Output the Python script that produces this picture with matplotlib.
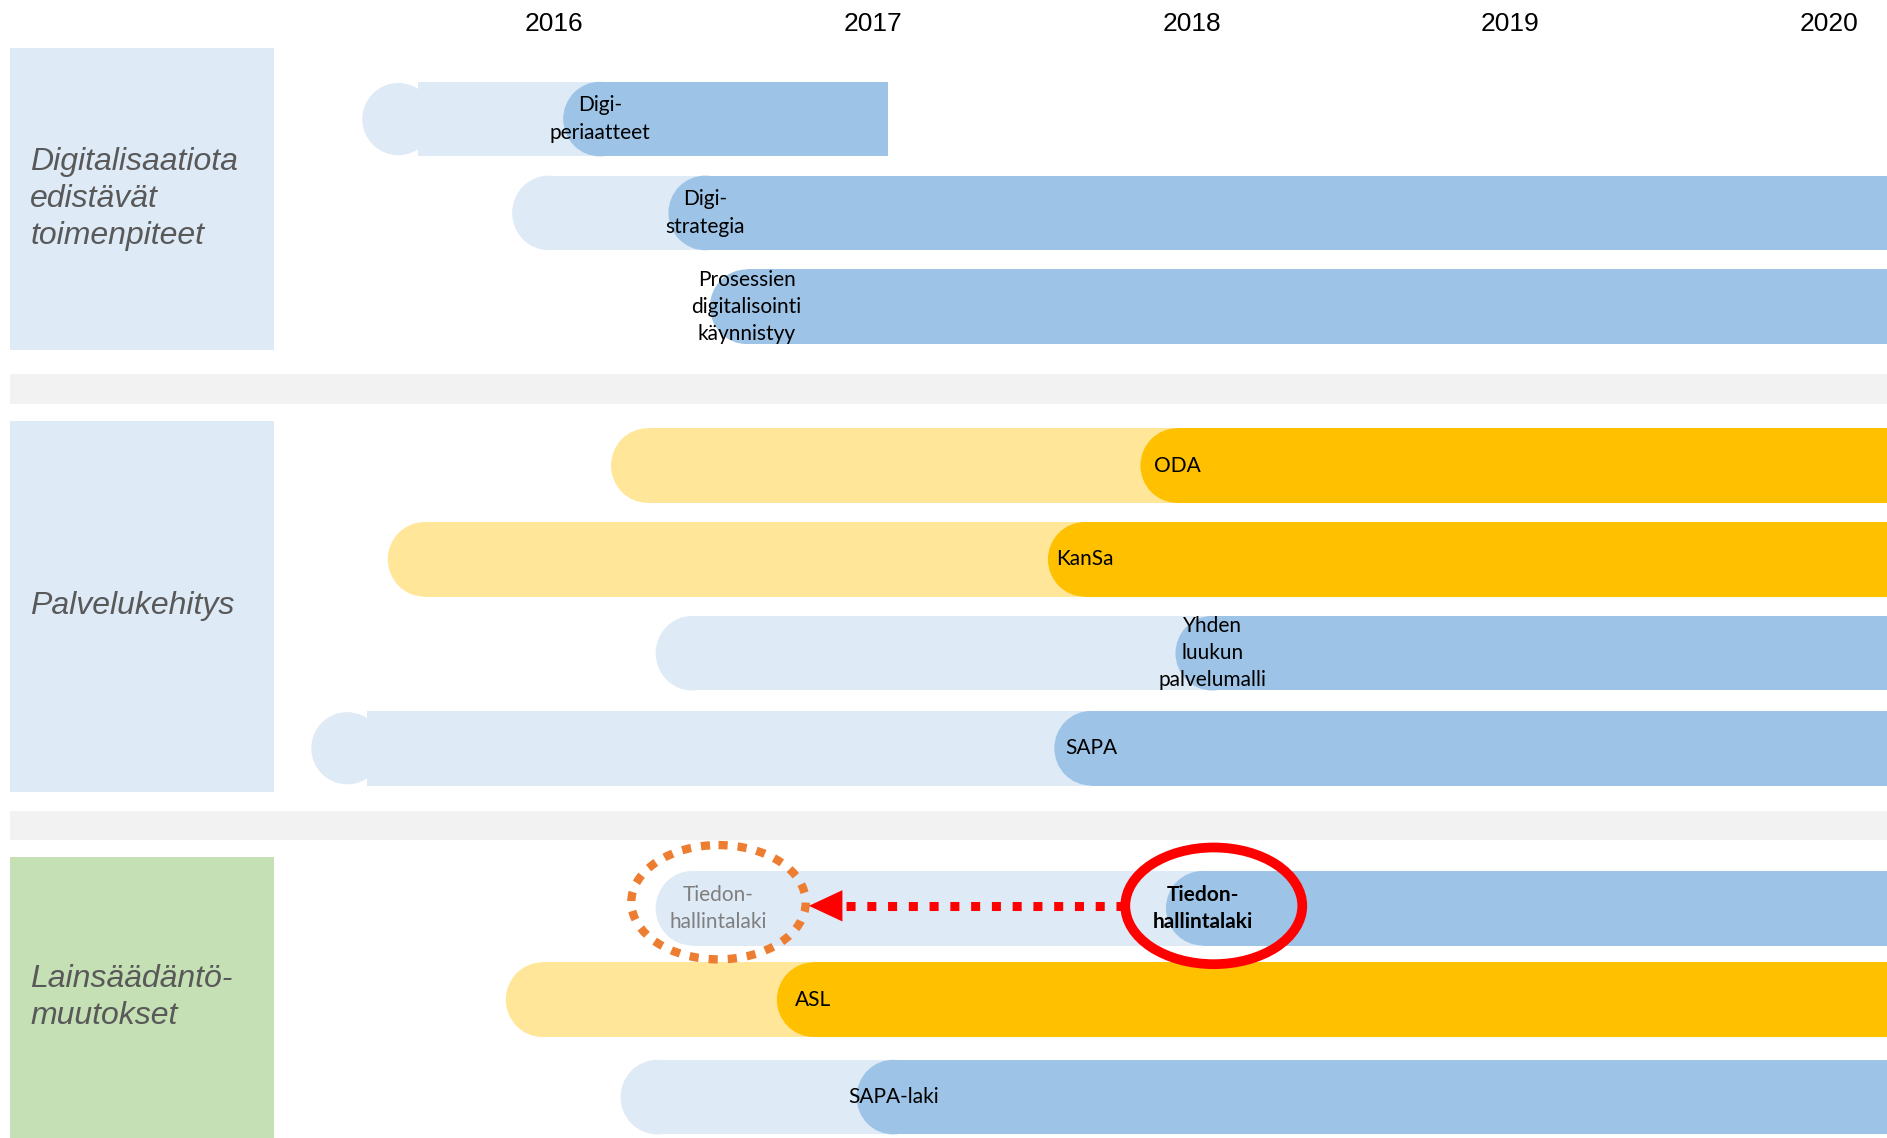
import matplotlib.pyplot as plt
from matplotlib.patches import Rectangle, Ellipse, Polygon
from matplotlib.transforms import blended_transform_factory

# timeline data (x in years)
years = [2016, 2017, 2018, 2019, 2020]

groups = ["Digitalisaatiota\nedistävät\ntoimenpiteet", "Palvelukehitys", "Lainsäädäntö-\nmuutokset"]
group_span = [(40, 291), (350, 658), (712, 960)]
group_color = ["#DEEBF7", "#DEEBF7", "#C5E0B4"]

labels = ["Digi-\nperiaatteet", "Digi-\nstrategia", "Prosessien\ndigitalisointi\nkäynnistyy",
          "ODA", "KanSa", "Yhden\nluukun\npalvelumalli", "SAPA",
          "Tiedon-\nhallintalaki", "ASL", "SAPA-laki"]
kind = ["b", "b", "b", "y", "y", "b", "b", "b", "y", "b"]
prep_start = [2015.40, 2015.87, None, 2016.18, 2015.48, 2016.32, 2015.24, 2016.32, 2015.85, 2016.21]
start = [2016.03, 2016.36, 2016.49, 2017.84, 2017.55, 2017.95, 2017.57, 2017.92, 2016.70, 2016.95]
end = [2017.05, 2020.5, 2020.5, 2020.5, 2020.5, 2020.5, 2020.5, 2020.5, 2020.5, 2020.5]
round_cap = [True, False, False, False, False, False, True, False, False, False]

# Tiedonhallintalaki: original plan vs. new date
orig_date = 2016.517
new_date = 2018.07

row_y = [99, 177, 255, 387, 465, 543, 622, 755, 831, 912]
bar_h = 62
cap = 0.115  # cap half-width in years

light = {"b": "#DEEAF6", "y": "#FFE699"}
dark = {"b": "#9DC3E6", "y": "#FFC000"}

fig = plt.figure(figsize=(18.87, 11.38), dpi=100)
ax = fig.add_axes([0, 0, 1, 1])
ax.set_xlim(2014.264, 2020.181)
ax.set_ylim(946, 0)
ax.axis("off")

tr = blended_transform_factory(ax.transAxes, ax.transData)

# left group panels and gray separator bands
for (y0, y1), c, g in zip(group_span, group_color, groups):
    ax.add_patch(Rectangle((8 / 1568, y0), 220 / 1568, y1 - y0, color=c, transform=tr, lw=0))
    ax.text(25 / 1568, (y0 + min(y1, 946)) / 2, g, transform=tr, ha="left", va="center",
            fontsize=23, style="italic", color="#595959", family="Liberation Sans",
            linespacing=1.3)
for y0, y1 in [(311, 336), (674, 698)]:
    ax.add_patch(Rectangle((8 / 1568, y0), 1, y1 - y0, color="#F2F2F2", transform=tr, lw=0))

for yr in years:
    ax.text(yr, 20, str(yr), ha="center", va="center", fontsize=19, family="Liberation Sans")


def seg(x0, x1, y, c, circle=False):
    if circle:
        # separate round disc in front of the bar, as in the original slide
        ax.add_patch(Ellipse((x0 + 0.113, y), 0.226, bar_h - 2, color=c, lw=0))
        ax.add_patch(Rectangle((x0 + 0.175, y - bar_h / 2), x1 - x0 - 0.175, bar_h, color=c, lw=0))
    else:
        ax.add_patch(Ellipse((x0 + cap, y), 2 * cap, bar_h, color=c, lw=0))
        ax.add_patch(Rectangle((x0 + cap, y - bar_h / 2), x1 - x0 - cap, bar_h, color=c, lw=0))


for i, lab in enumerate(labels):
    y = row_y[i]
    if prep_start[i] is not None:
        seg(prep_start[i], start[i] + 2 * cap, y, light[kind[i]], round_cap[i])
    seg(start[i], end[i], y, dark[kind[i]])
    bold = lab.startswith("Tiedon")
    ax.text(start[i] + cap, y, lab, ha="center", va="center", fontsize=15,
            family="Lato", linespacing=1.45, weight="bold" if bold else "normal")

# moved law: old position marker, arrow, new position marker
ty = row_y[7]
ax.text(orig_date, ty, "Tiedon-\nhallintalaki", ha="center", va="center", fontsize=15,
        family="Lato", linespacing=1.45, color="#7F7F7F")
o_w, o_h = 0.547, 95
r_w, r_h = 0.555, 97
ax.add_patch(Ellipse((orig_date, ty - 5), o_w, o_h, fill=False, ec="#ED7D31", lw=6,
                     ls=(0, (1.1, 1.2))))
ax.add_patch(Ellipse((new_date, ty - 2), r_w, r_h, fill=False, ec="#FF0000", lw=7))
tip = orig_date + o_w / 2 + 0.01
base = tip + 0.105
ax.plot([new_date - r_w / 2, base], [ty - 2, ty - 2], color="#FF0000", lw=6.5,
        ls=(0, (1.0, 1.3)), solid_capstyle="butt", dash_capstyle="butt")
ax.add_patch(Polygon([(tip, ty - 2), (base, ty - 15), (base, ty + 11)], closed=True,
                     color="#FF0000", lw=0))

plt.savefig("out.png", dpi=100)
